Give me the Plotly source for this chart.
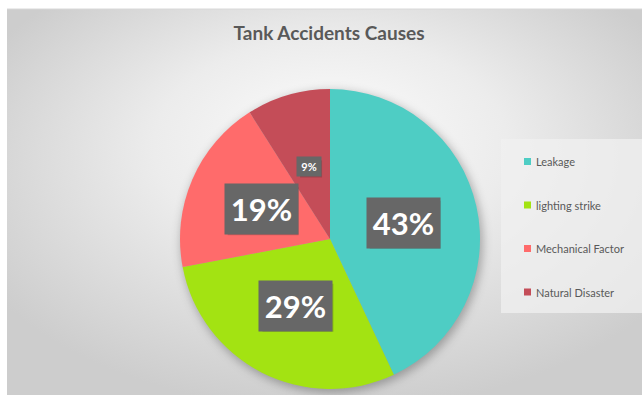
import base64
import math
import plotly.graph_objects as go

# ---- data -------------------------------------------------------------
causes = ["Leakage", "lighting strike", "Mechanical Factor", "Natural Disaster"]
shares = [43, 29, 19, 9]
colors = ["#4ECDC4", "#A3E312", "#FF6B6B", "#C44D58"]
title_text = "Tank Accidents Causes"

# ---- canvas geometry (pixels) ----------------------------------------
W, H = 642, 395
CX, CY, R = 330, 239, 150          # pie centre and radius
FRAME_X, FRAME_Y = 7, 9             # chart-area frame offset


def px(x):
    return x / W


def py(y):
    return 1 - y / H


# radial grey background with a soft shadow under the pie
svg = f"""<svg xmlns='http://www.w3.org/2000/svg' width='{W}' height='{H}' viewBox='0 0 {W} {H}'>
<defs>
<radialGradient id='g' cx='0.51' cy='0.42' r='0.62' fx='0.51' fy='0.30'>
<stop offset='0' stop-color='#fbfbfb'/>
<stop offset='0.45' stop-color='#ececec'/>
<stop offset='1' stop-color='#cdcdcd'/>
</radialGradient>
<filter id='b' x='-20%' y='-20%' width='140%' height='140%'><feGaussianBlur stdDeviation='5'/></filter>
</defs>
<rect x='0' y='0' width='{W}' height='{H}' fill='#ffffff'/>
<rect x='{FRAME_X}' y='{FRAME_Y}' width='{W - FRAME_X}' height='{H - FRAME_Y}' fill='url(#g)'/>
<line x1='{FRAME_X}' y1='{FRAME_Y}' x2='{W}' y2='{FRAME_Y}' stroke='#d8d8d8' stroke-width='1'/>
<circle cx='{CX + 2}' cy='{CY + 3}' r='{R + 1}' fill='#000' fill-opacity='0.28' filter='url(#b)'/>
</svg>"""
bg_src = "data:image/svg+xml;base64," + base64.b64encode(svg.encode()).decode()

fig = go.Figure()

fig.add_trace(go.Pie(
    labels=causes,
    values=shares,
    sort=False,
    direction="clockwise",
    rotation=0,
    marker=dict(colors=colors, line=dict(width=0)),
    textinfo="none",
    hovertemplate="%{label}: %{value}%<extra></extra>",
    domain=dict(x=[px(CX - R), px(CX + R)], y=[py(CY + R), py(CY - R)]),
    showlegend=False,
))

shapes = []
annotations = []

# ---- percentage labels in grey boxes, placed at half radius on each slice mid-angle
total = sum(shares)
cum = 0.0
for v in shares:
    mid = (cum + v / 2) / total * 2 * math.pi
    cum += v
    lx = CX + 0.5 * R * math.sin(mid)
    ly = CY - 0.5 * R * math.cos(mid)
    big = v >= 15
    fs = 31 if big else 11
    bw, bh = (71, 48) if big else (22, 17)
    # soft drop shadow behind the box
    shapes.append(dict(
        type="rect", xref="paper", yref="paper",
        x0=px(lx - bw / 2 + 2), x1=px(lx + bw / 2 + 2),
        y0=py(ly + bh / 2 + 2), y1=py(ly - bh / 2 + 2),
        fillcolor="rgba(0,0,0,0.18)", line=dict(width=0),
    ))
    annotations.append(dict(
        x=px(lx), y=py(ly), xref="paper", yref="paper",
        xanchor="center", yanchor="middle",
        text=f"{v}%", showarrow=False, width=bw, height=bh,
        bgcolor="#676767",
        font=dict(family="Lato", size=fs, color="#ffffff", weight="bold"),
    ))

# ---- legend panel -----------------------------------------------------
LEG_X0, LEG_Y0, LEG_Y1 = 501, 139, 313
ITEM_Y0, ITEM_STEP = 161.5, 43.5
SW_X, SW = 524, 7

shapes.append(dict(
    type="rect", xref="paper", yref="paper",
    x0=px(LEG_X0), x1=1.0, y0=py(LEG_Y1), y1=py(LEG_Y0),
    fillcolor="rgba(240,240,240,0.75)", line=dict(width=0), layer="below",
))
for i, (name, col) in enumerate(zip(causes, colors)):
    yc = ITEM_Y0 + i * ITEM_STEP
    shapes.append(dict(
        type="rect", xref="paper", yref="paper",
        x0=px(SW_X), x1=px(SW_X + SW), y0=py(yc + SW / 2), y1=py(yc - SW / 2),
        fillcolor=col, line=dict(width=0),
    ))
    annotations.append(dict(
        x=px(SW_X + SW + 3), y=py(yc), xref="paper", yref="paper",
        xanchor="left", yanchor="middle", text=name, showarrow=False,
        font=dict(family="Lato", size=11, color="#595959"),
    ))

fig.update_layout(
    width=W, height=H,
    margin=dict(l=0, r=0, t=0, b=0),
    paper_bgcolor="#ffffff",
    plot_bgcolor="rgba(0,0,0,0)",
    title=dict(
        text=title_text, x=px(329), y=py(33), xref="paper", yref="container",
        xanchor="center", yanchor="middle",
        font=dict(family="Lato", size=19, color="#595959", weight="bold"),
    ),
    images=[dict(
        source=bg_src, xref="paper", yref="paper", x=0, y=1,
        sizex=1, sizey=1, xanchor="left", yanchor="top",
        sizing="stretch", layer="below",
    )],
    shapes=shapes,
    annotations=annotations,
)

fig.write_html("out.html")
